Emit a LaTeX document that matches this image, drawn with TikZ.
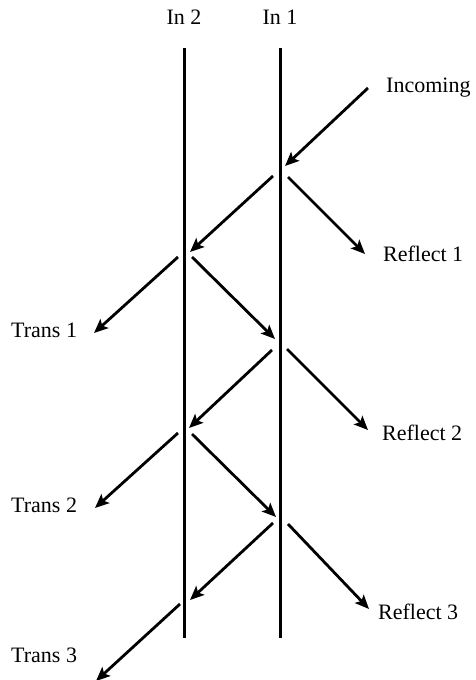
\documentclass[tikz,border=0pt]{standalone}
\usepackage{fontspec}
\setmainfont{Liberation Serif}
\usetikzlibrary{arrows.meta}
\begin{document}
\begin{tikzpicture}[x=1pt,y=-1pt,
  wall/.style={line width=3pt},
  ray/.style={line width=2.8pt,-{Stealth[length=14pt,width=12pt,inset=3pt]}},
  lbl/.style={inner sep=0pt,font=\fontsize{22}{26}\selectfont},
  lblw/.style={lbl,anchor=west}]
\useasboundingbox (0,0) rectangle (476,680);
% walls
\coordinate (w2t) at (184,48); \coordinate (w2b) at (184,638);
\coordinate (w1t) at (280,48); \coordinate (w1b) at (280,638);
\draw[wall] (w2t) -- (w2b);
\draw[wall] (w1t) -- (w1b);
\node[lbl] (in2) at (184,17) {In 2};
\node[lbl] (in1) at (280,17) {In 1};
% labels
\node[lblw] (incoming) at (386,88) {Incoming};
\node[lblw] (refl1) at (383,254) {Reflect 1};
\node[lblw] (refl2) at (382,433) {Reflect 2};
\node[lblw] (refl3) at (378,612) {Reflect 3};
\node[lblw] (trans1) at (11,330) {Trans 1};
\node[lblw] (trans2) at (11,505) {Trans 2};
\node[lblw] (trans3) at (11,655) {Trans 3};
% ray endpoints
\coordinate (a0) at (368,88);  \coordinate (a1) at (285,166);
\coordinate (b0) at (273,176); \coordinate (b1) at (190,252);
\coordinate (c0) at (288,177); \coordinate (c1) at (365,254);
\coordinate (d0) at (178,257); \coordinate (d1) at (94,333);
\coordinate (e0) at (192,257); \coordinate (e1) at (275,339);
\coordinate (f0) at (272,350); \coordinate (f1) at (189,428);
\coordinate (g0) at (287,349); \coordinate (g1) at (368,430);
\coordinate (h0) at (178,433); \coordinate (h1) at (95,508);
\coordinate (i0) at (192,434); \coordinate (i1) at (276,517);
\coordinate (j0) at (273,523); \coordinate (j1) at (190,600);
\coordinate (k0) at (288,524); \coordinate (k1) at (369,609);
\coordinate (l0) at (180,604); \coordinate (l1) at (96,681);
\draw[ray] (a0) -- (a1);
\draw[ray] (b0) -- (b1);
\draw[ray] (c0) -- (c1);
\draw[ray] (d0) -- (d1);
\draw[ray] (e0) -- (e1);
\draw[ray] (f0) -- (f1);
\draw[ray] (g0) -- (g1);
\draw[ray] (h0) -- (h1);
\draw[ray] (i0) -- (i1);
\draw[ray] (j0) -- (j1);
\draw[ray] (k0) -- (k1);
\draw[ray] (l0) -- (l1);
\end{tikzpicture}
\end{document}
